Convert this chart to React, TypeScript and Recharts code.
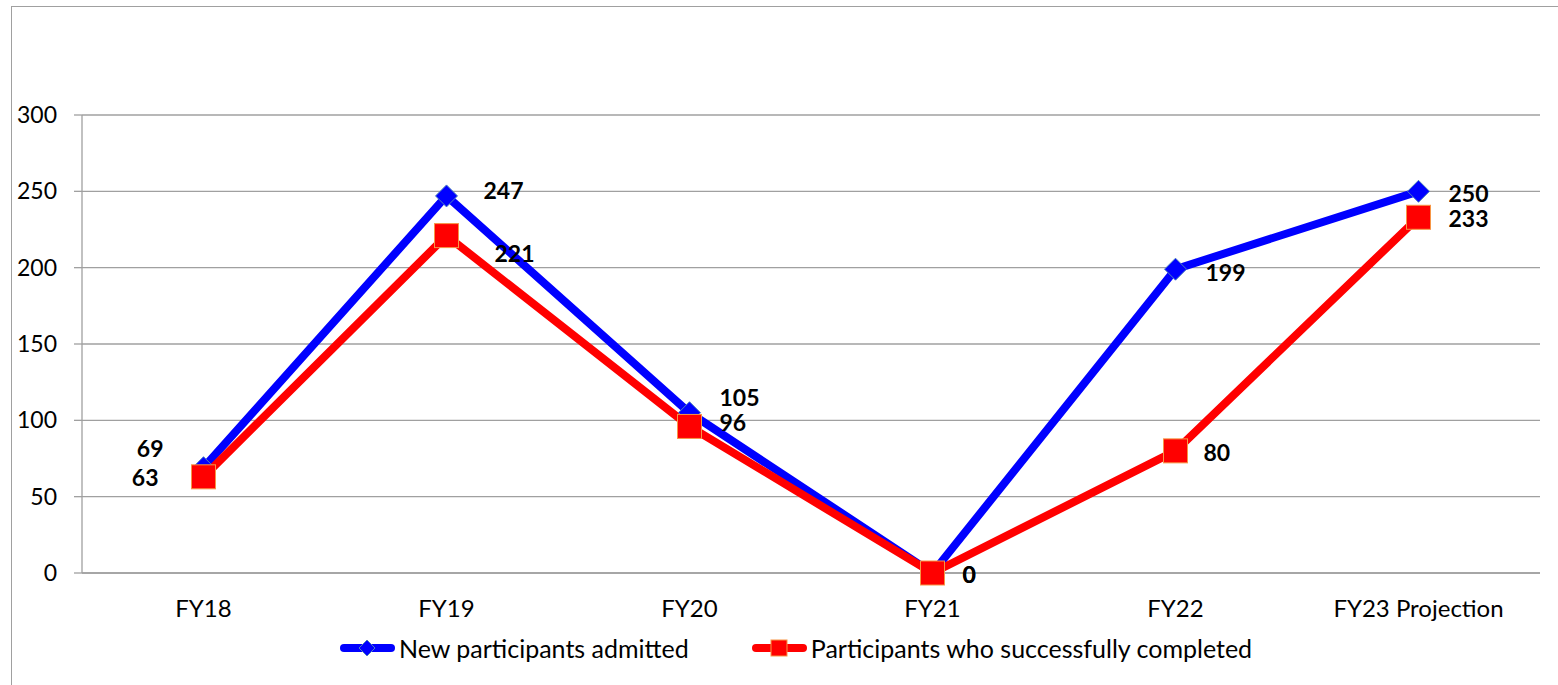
import React from 'react'
import { LineChart, Line, XAxis, YAxis, CartesianGrid, Legend } from 'recharts'

const categories = ['FY18', 'FY19', 'FY20', 'FY21', 'FY22', 'FY23 Projection']
const admitted = [69, 247, 105, 0, 199, 250]
const completed = [63, 221, 96, 0, 80, 233]
const yTicks = [0, 50, 100, 150, 200, 250, 300]
const boundTicks = [0, 1, 2, 3, 4, 5, 6]

const data = categories.map((name, i) => ({ name, admitted: admitted[i], completed: completed[i] }))

const FONT = 'Lato, "Open Sans", sans-serif'
const BLUE = '#0000ff'
const RED = '#ff0000'
const GRID = '#a0a0a0'
const PLOT_W = 1558 - 82 - 18
const HALF_BAND = PLOT_W / categories.length / 2

// label placement per point, like Excel's manual nudges
type Place = { dx: number; dy: number; anchor: 'start' | 'end' }
const admittedPlace: Place[] = [
  { dx: -40, dy: -20, anchor: 'end' },
  { dx: 37, dy: -6, anchor: 'start' },
  { dx: 30, dy: -16, anchor: 'start' },
  { dx: 30, dy: 1, anchor: 'start' },
  { dx: 30, dy: 3, anchor: 'start' },
  { dx: 30, dy: 2, anchor: 'start' },
]
const completedPlace: Place[] = [
  { dx: -45, dy: 0, anchor: 'end' },
  { dx: 48, dy: 17, anchor: 'start' },
  { dx: 30, dy: -4, anchor: 'start' },
  { dx: 30, dy: 1, anchor: 'start' },
  { dx: 28, dy: 1, anchor: 'start' },
  { dx: 30, dy: 1, anchor: 'start' },
]

const makeLabel = (places: Place[]) => (props: any) => {
  const { x, y, value, index } = props
  const p = places[index]
  return (
    <text x={x + p.dx} y={y + p.dy} textAnchor={p.anchor} dominantBaseline="central"
      fontFamily={FONT} fontSize={23} fontWeight="bold" fill="#000">
      {value}
    </text>
  )
}

const Diamond = ({ cx, cy, r = 11 }: any) => (
  <polygon points={`${cx},${cy - r} ${cx + r},${cy} ${cx},${cy + r} ${cx - r},${cy}`}
    fill={BLUE} stroke="#4f81bd" strokeWidth={1} />
)
const Square = ({ cx, cy, s = 12 }: any) => (
  <rect x={cx - s} y={cy - s} width={s * 2} height={s * 2} fill={RED} stroke="#f79646" strokeWidth={1} />
)

const LegendContent = () => (
  <div style={{ display: 'flex', alignItems: 'center', fontFamily: FONT, fontSize: 25, color: '#000', whiteSpace: 'nowrap' }}>
    <svg width={60} height={22}>
      <line x1={5} y1={11} x2={52} y2={11} stroke={BLUE} strokeWidth={8} strokeLinecap="round" />
      <Diamond cx={28} cy={11} r={8} />
    </svg>
    <span>New participants admitted</span>
    <svg width={60} height={22} style={{ marginLeft: 62 }}>
      <line x1={5} y1={11} x2={52} y2={11} stroke={RED} strokeWidth={8} strokeLinecap="round" />
      <Square cx={28} cy={11} s={8} />
    </svg>
    <span>Participants who successfully completed</span>
  </div>
)

export default function App() {
  return (
    <div style={{ position: 'absolute', left: 0, top: 0, width: 1558, height: 685, overflow: 'hidden', background: '#fff' }}>
      <div style={{ position: 'absolute', left: 11, top: 6, width: 1600, height: 800, border: `1px solid ${GRID}` }} />
      <div style={{ position: 'absolute', left: 0, top: 0 }}>
        <LineChart width={1558} height={685} data={data} margin={{ top: 115, right: 18, bottom: 72, left: 0 }}>
          <CartesianGrid vertical={false} stroke={GRID} strokeWidth={1.3} />
          <XAxis xAxisId="bounds" type="number" domain={[0, 6]} ticks={boundTicks} allowDataOverflow
            tick={false} tickSize={8} axisLine={false} tickLine={{ stroke: GRID, strokeWidth: 1.3 }} height={0} />
          <XAxis dataKey="name" tickLine={false} axisLine={{ stroke: GRID, strokeWidth: 1.3 }} height={40}
            padding={{ left: HALF_BAND, right: HALF_BAND }}
            tickSize={8} tickMargin={19} tick={{ fill: '#000', fontFamily: FONT, fontSize: 24 }} />
          <YAxis domain={[0, 300]} ticks={yTicks} width={82} tickSize={8} tickMargin={17}
            axisLine={{ stroke: GRID, strokeWidth: 1.3 }} tickLine={{ stroke: GRID, strokeWidth: 1.3 }}
            tick={{ fill: '#000', fontFamily: FONT, fontSize: 23 }} />
          <Legend verticalAlign="middle" align="center" content={<LegendContent />}
            wrapperStyle={{ top: 633, left: 339, width: 'auto' }} />
          <Line dataKey="admitted" stroke={BLUE} strokeWidth={8} isAnimationActive={false}
            dot={(p: any) => <Diamond key={`d${p.index}`} cx={p.cx} cy={p.cy} />} activeDot={false}
            label={makeLabel(admittedPlace)} />
          <Line dataKey="completed" stroke={RED} strokeWidth={8} isAnimationActive={false}
            dot={(p: any) => <Square key={`s${p.index}`} cx={p.cx} cy={p.cy} />} activeDot={false}
            label={makeLabel(completedPlace)} />
        </LineChart>
      </div>
    </div>
  )
}
